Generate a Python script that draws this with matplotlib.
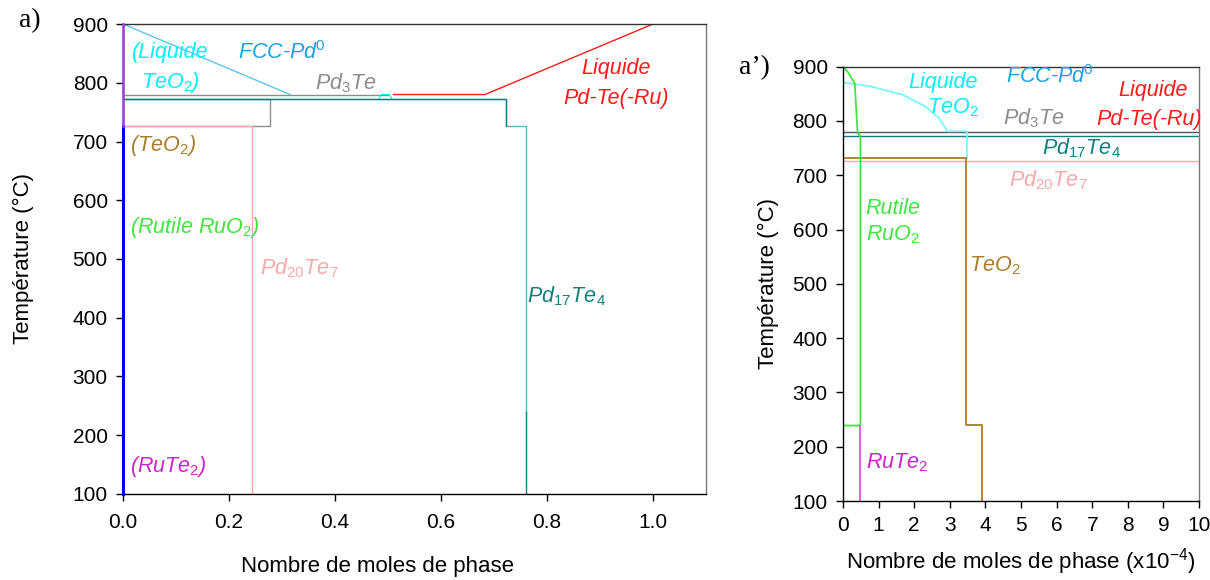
import matplotlib.pyplot as plt

plt.rcParams["font.family"] = ["Liberation Sans", "DejaVu Sans"]
plt.rcParams["mathtext.fontset"] = "custom"
plt.rcParams["mathtext.it"] = "Liberation Sans:italic"
plt.rcParams["mathtext.rm"] = "Liberation Sans"

# ---- a) : whole range, x = moles of phase
fcc_x, fcc_T = [0.0, 0.315], [900, 780]
pd3te_x, pd3te_T = [0.0, 0.50], [780, 780]
pd3te_b_x, pd3te_b_T = [0.0, 0.277, 0.277, 0.0], [773, 773, 727, 727]
liq_x, liq_T = [0.51, 0.683, 1.0], [780, 780, 900]
liqteo2_x, liqteo2_T = [0.483, 0.487, 0.503, 0.507], [773, 780, 780, 773]
pd17_x, pd17_T = [0.0, 0.722, 0.722, 0.76, 0.76], [773, 773, 727, 727, 240]
pd17_low_x, pd17_low_T = [0.76, 0.76], [240, 100]
pd20_x, pd20_T = [0.0, 0.243, 0.243], [727, 727, 100]
small_x, small_T = [0.0, 0.0], [100, 727]
small_top_x, small_top_T = [0.0, 0.0], [727, 900]

# ---- a') : zoom, x in 1e-4 mol
r_rutile_x = [0.0, 0.15, 0.33, 0.41, 0.49, 0.49, 0.0]
r_rutile_T = [900, 889, 869, 777, 773, 239, 239]
r_liq_x = [0.0, 0.75, 1.69, 2.33, 2.70, 2.93, 3.48, 3.48]
r_liq_T = [871, 864, 848, 826, 805, 781, 781, 731]
r_teo2_x, r_teo2_T = [0.0, 3.45, 3.45, 3.91, 3.91], [731, 731, 240, 240, 100]
r_rute2_x, r_rute2_T = [0.49, 0.49], [239, 100]
r_pd20_x, r_pd20_T = [0.0, 10.5], [727, 727]
r_pd17_x, r_pd17_T = [0.0, 10.5], [773, 773]
r_pd3te_x, r_pd3te_T = [0.0, 10.5], [780, 780]

c_cyan = "#00f0ff"
c_fcc = "#5ec4ee"
c_fcc_txt = "#1ca2e6"
c_gray = "#8c8c8c"
c_red = "#ff1a1a"
c_teal = "#127f7f"
c_teal_l = "#63b5b5"
c_pink = "#f6a9a9"
c_brown = "#a87d2a"
c_green = "#3ee63e"
c_mag = "#cc22cc"
c_blue = "#0000ee"

fig = plt.figure(figsize=(12.1, 5.8), dpi=100)
ax1 = fig.add_axes([0.1017, 0.1483, 0.4818, 0.8103])
ax2 = fig.add_axes([0.6967, 0.1362, 0.2942, 0.7488])

lw = 1.0
ax1.plot(pd3te_b_x, pd3te_b_T, color=c_gray, lw=lw)
ax1.plot(pd3te_x, pd3te_T, color=c_gray, lw=lw)
ax1.plot(fcc_x, fcc_T, color=c_fcc, lw=lw)
ax1.plot(liq_x, liq_T, color=c_red, lw=lw)
ax1.plot(liqteo2_x, liqteo2_T, color=c_cyan, lw=0.8)
ax1.plot(pd17_x, pd17_T, color=c_teal_l, lw=lw)
ax1.plot(pd17_x[:3], pd17_T[:3], color=c_teal, lw=lw)
ax1.plot(pd17_low_x, pd17_low_T, color=c_teal, lw=lw)
ax1.plot(pd20_x, pd20_T, color=c_pink, lw=lw)
ax1.plot(small_x, small_T, color=c_blue, lw=2.2, clip_on=False, zorder=5)
ax1.plot(small_top_x, small_top_T, color="#a040e0", lw=1.8, clip_on=False, zorder=5)

lab = 16
ax1.set_xlim(0, 1.1)
ax1.set_ylim(100, 900)
ax1.set_xticks([0.0, 0.2, 0.4, 0.6, 0.8, 1.0])
ax1.set_xticklabels(["0.0", "0.2", "0.4", "0.6", "0.8", "1.0"])
ax1.set_yticks(range(100, 901, 100))
ax1.set_xlabel("Nombre de moles de phase", fontsize=lab)
ax1.xaxis.set_label_coords(0.436, -0.132)
ax1.set_ylabel("Température (°C)", fontsize=lab, labelpad=28)

fs = 15.5
ax1.text(0.09, 852, "(Liquide", color=c_cyan, style="italic", fontsize=fs, ha="center", va="center")
ax1.text(0.09, 801, "TeO$_2$)", color=c_cyan, style="italic", fontsize=fs, ha="center", va="center")
ax1.text(0.30, 852, "FCC-Pd$^0$", color=c_fcc_txt, style="italic", fontsize=fs, ha="center", va="center")
ax1.text(0.42, 800, "Pd$_3$Te", color=c_gray, style="italic", fontsize=fs, ha="center", va="center")
ax1.text(0.93, 825, "Liquide", color=c_red, style="italic", fontsize=fs, ha="center", va="center")
ax1.text(0.93, 774, "Pd-Te(-Ru)", color=c_red, style="italic", fontsize=fs, ha="center", va="center")
ax1.text(0.013, 694, "(TeO$_2$)", color=c_brown, style="italic", fontsize=fs, ha="left", va="center")
ax1.text(0.013, 553, "(Rutile RuO$_2$)", color=c_green, style="italic", fontsize=fs, ha="left", va="center")
ax1.text(0.258, 485, "Pd$_{20}$Te$_7$", color=c_pink, style="italic", fontsize=fs, ha="left", va="center")
ax1.text(0.763, 437, "Pd$_{17}$Te$_4$", color=c_teal, style="italic", fontsize=fs, ha="left", va="center")
ax1.text(0.013, 146, "(RuTe$_2$)", color=c_mag, style="italic", fontsize=fs, ha="left", va="center")

ax2.plot(r_pd20_x, r_pd20_T, color=c_pink, lw=lw)
ax2.plot(r_pd3te_x, r_pd3te_T, color="#555555", lw=lw)
ax2.plot(r_pd17_x, r_pd17_T, color=c_teal, lw=lw)
ax2.plot(r_liq_x, r_liq_T, color="#7af4ff", lw=1.3)
ax2.plot(r_teo2_x, r_teo2_T, color=c_brown, lw=1.3)
ax2.plot(r_rutile_x, r_rutile_T, color=c_green, lw=1.3)
ax2.plot(r_rute2_x, r_rute2_T, color="#dd55dd", lw=1.3)

ax2.set_xlim(0, 10)
ax2.set_ylim(100, 900)
ax2.set_xticks(range(0, 11))
ax2.set_yticks(range(100, 901, 100))
ax2.set_xlabel("Nombre de moles de phase (x10$^{\\mathregular{-4}}$)", fontsize=lab, labelpad=8)
ax2.set_ylabel("Température (°C)", fontsize=lab, labelpad=10)

ax2.text(3.8, 870, "Liquide", color=c_cyan, style="italic", fontsize=fs, ha="right", va="center")
ax2.text(3.8, 824, "TeO$_2$", color=c_cyan, style="italic", fontsize=fs, ha="right", va="center")
ax2.text(5.8, 881, "FCC-Pd$^0$", color=c_fcc_txt, style="italic", fontsize=fs, ha="center", va="center")
ax2.text(8.7, 857, "Liquide", color=c_red, style="italic", fontsize=fs, ha="center", va="center")
ax2.text(8.6, 802, "Pd-Te(-Ru)", color=c_red, style="italic", fontsize=fs, ha="center", va="center")
ax2.text(5.35, 805, "Pd$_3$Te", color=c_gray, style="italic", fontsize=fs, ha="center", va="center")
ax2.text(6.7, 750, "Pd$_{17}$Te$_4$", color=c_teal, style="italic", fontsize=fs, ha="center", va="center")
ax2.text(5.77, 691, "Pd$_{20}$Te$_7$", color=c_pink, style="italic", fontsize=fs, ha="center", va="center")
ax2.text(1.4, 639, "Rutile", color=c_green, style="italic", fontsize=fs, ha="center", va="center")
ax2.text(1.4, 591, "RuO$_2$", color=c_green, style="italic", fontsize=fs, ha="center", va="center")
ax2.text(3.55, 533, "TeO$_2$", color=c_brown, style="italic", fontsize=fs, ha="left", va="center")
ax2.text(0.65, 170, "RuTe$_2$", color=c_mag, style="italic", fontsize=fs, ha="left", va="center")

for ax in (ax1, ax2):
    ax.tick_params(direction="out", length=5, width=1, labelsize=15, pad=6)
    ax.spines["left"].set_color("black")
    ax.spines["bottom"].set_color("black")
    ax.spines["top"].set_color("#333333")
    ax.spines["right"].set_color("#777777")
    for s in ax.spines.values():
        s.set_linewidth(1.0)
ax1.tick_params(axis="x", pad=9)

fig.text(0.016, 0.965, "a)", fontsize=20, family="Liberation Serif", va="center")
fig.text(0.611, 0.883, "a\u2019)", fontsize=20, family="Liberation Serif", va="center")

fig.savefig("out.png", dpi=100)
